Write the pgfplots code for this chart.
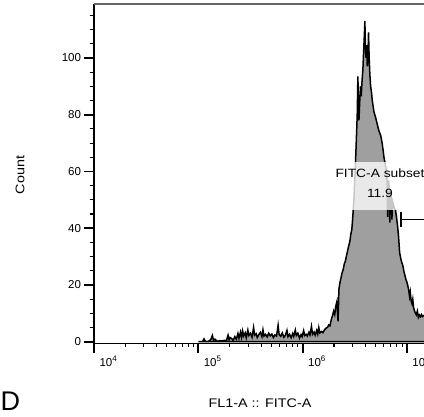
\documentclass[border=0pt]{standalone}
\usepackage{fontspec}
\setmainfont{Liberation Sans}
\usepackage{graphicx}
\usepackage{pgfplots}
\usepackage{pgfplotstable}
\pgfplotsset{compat=1.18}

% x = log10(FL1-A), y = count
\pgfplotstableread{
lx count
5.000 0
5.040 0
5.055 1.0
5.065 0.3
5.080 0
5.100 0.2
5.120 0.8
5.135 2.2
5.145 0.6
5.160 0.9
5.175 0.3
5.190 0.2
5.210 0.4
5.230 0.3
5.250 0.5
5.270 0.4
5.285 2.3
5.295 0.8
5.305 1.5
5.320 1.1
5.335 0.5
5.350 1.8
5.365 0.9
5.380 2.9
5.390 1.2
5.405 3.4
5.415 1.5
5.425 3.8
5.435 2.0
5.450 3.1
5.460 1.4
5.475 4.1
5.485 2.2
5.500 3.0
5.515 1.6
5.530 5.0
5.540 2.3
5.555 2.8
5.565 1.5
5.580 2.5
5.595 3.3
5.610 1.8
5.620 4.2
5.630 2.0
5.645 2.6
5.660 1.7
5.675 3.0
5.690 2.1
5.705 2.7
5.720 1.5
5.735 2.4
5.750 2.0
5.765 5.8
5.775 2.5
5.790 1.9
5.805 3.1
5.820 1.6
5.835 2.3
5.850 4.0
5.860 1.8
5.875 2.6
5.890 1.4
5.905 2.9
5.915 1.9
5.930 4.1
5.940 2.2
5.955 3.0
5.970 1.3
5.985 2.5
5.995 1.8
6.010 3.9
6.020 2.2
6.035 2.6
6.045 2.0
6.060 3.3
6.070 2.4
6.085 5.4
6.095 2.6
6.110 3.4
6.120 2.3
6.135 4.0
6.145 2.7
6.155 5.0
6.165 3.1
6.180 3.6
6.195 3.2
6.210 4.2
6.225 4.8
6.240 5.1
6.250 5.9
6.262 5.6
6.275 7.8
6.288 9.4
6.298 10.8
6.308 9.6
6.318 12.5
6.328 14.0
6.335 10.2
6.340 7.2
6.348 18.5
6.358 20.8
6.368 22.5
6.378 24.2
6.390 25.6
6.400 27.5
6.410 28.4
6.420 30.2
6.430 31.8
6.440 33.5
6.452 35.2
6.462 37.8
6.472 39.6
6.482 44.5
6.492 50.2
6.500 57.0
6.510 66.0
6.518 74.0
6.524 80.5
6.530 93.5
6.535 84.0
6.540 78.0
6.548 85.0
6.555 90.0
6.562 86.5
6.570 92.0
6.578 96.0
6.586 103.0
6.592 108.0
6.597 113.0
6.602 104.0
6.608 100.0
6.614 104.5
6.620 97.0
6.626 100.0
6.632 109.0
6.638 100.0
6.645 94.0
6.652 90.0
6.660 88.0
6.668 85.0
6.676 83.0
6.684 81.0
6.692 80.0
6.700 79.0
6.710 77.5
6.720 76.0
6.730 74.5
6.740 73.5
6.750 72.5
6.760 70.5
6.770 68.0
6.780 65.0
6.790 63.0
6.800 61.0
6.808 59.5
6.815 44.0
6.822 57.0
6.830 55.0
6.836 42.0
6.842 53.0
6.850 51.0
6.856 43.0
6.862 49.5
6.870 48.5
6.880 47.0
6.890 46.5
6.900 44.0
6.910 41.0
6.920 37.0
6.930 31.5
6.940 29.5
6.950 28.0
6.960 27.0
6.970 25.0
6.980 23.5
6.990 22.0
7.000 21.0
7.010 19.5
7.018 18.0
7.025 16.0
7.032 17.5
7.040 14.5
7.048 13.5
7.056 15.0
7.064 12.0
7.072 11.0
7.080 10.2
7.090 9.5
7.100 10.8
7.110 8.6
7.120 9.4
7.130 8.8
7.140 9.6
7.150 8.9
7.160 9.2
7.170 9.0
7.180 9.3
7.200 9.1
}\hist

\newcommand{\lab}[1]{\scalebox{1.15}[1]{\fontsize{12.5}{14}\selectfont #1}}

\begin{document}
\begin{tikzpicture}[x=1pt,y=1pt]
\path[use as bounding box] (0,0) rectangle (424,417);
\begin{axis}[
  at={(94pt,73.7pt)}, anchor=south west,
  scale only axis, width=332pt, height=339.3pt,
  xmin=4, xmax=7.183, ymin=-0.55, ymax=119,
  axis x line*=bottom, axis y line*=left,
  axis line style={-, line width=1.4pt},
  tick align=outside,
  major tick length=9.5pt, minor tick length=4pt,
  major tick style={black, line width=1.8pt},
  minor tick style={black, line width=1.1pt},
  xtick={4,5,6,7},
  xticklabels={10\textsuperscript{4},10\textsuperscript{5},10\textsuperscript{6},10\textsuperscript{7}},
  minor xtick={4.301,4.477,4.602,4.699,4.778,4.845,4.903,4.954,
               5.301,5.477,5.602,5.699,5.778,5.845,5.903,5.954,
               6.301,6.477,6.602,6.699,6.778,6.845,6.903,6.954},
  ytick={0,20,40,60,80,100},
  minor ytick={5,10,15,25,30,35,45,50,55,65,70,75,85,90,95,105,110,115},
  /pgf/number format/assume math mode=true,
  tick label style={font=\fontsize{11.5}{13}\selectfont},
  xticklabel style={anchor=north west, xshift=2pt},
]
\addplot[draw=black, line width=1.5pt, fill=gray!75] table[x=lx, y=count]{\hist} \closedcycle;
\fill[white, opacity=0.78] (axis cs:6.285,46.4) rectangle (axis cs:7.3,63.3);
\node[font=\fontsize{12}{14}\selectfont] at (axis cs:6.742,59.4) {\scalebox{1.15}[1]{FITC-A subset}};
\node[font=\fontsize{12}{14}\selectfont] at (axis cs:6.742,52.4) {\scalebox{1.15}[1]{11.9}};
\draw[line width=1.5pt] (axis cs:6.945,40.3) -- (axis cs:6.945,45.8);
\draw[line width=1.5pt] (axis cs:6.945,43) -- (axis cs:7.3,43);
\draw[black!60, line width=1.6pt] (rel axis cs:0,1) -- (rel axis cs:1.02,1);
\end{axis}
\node[rotate=90] at (20,242) {\lab{Count}};
\node at (260,14) {\lab{FL1-A :: FITC-A}};
\node[anchor=west, inner sep=0pt, font=\fontsize{27}{30}\selectfont] at (0.5,16) {D};
\end{tikzpicture}
\end{document}
